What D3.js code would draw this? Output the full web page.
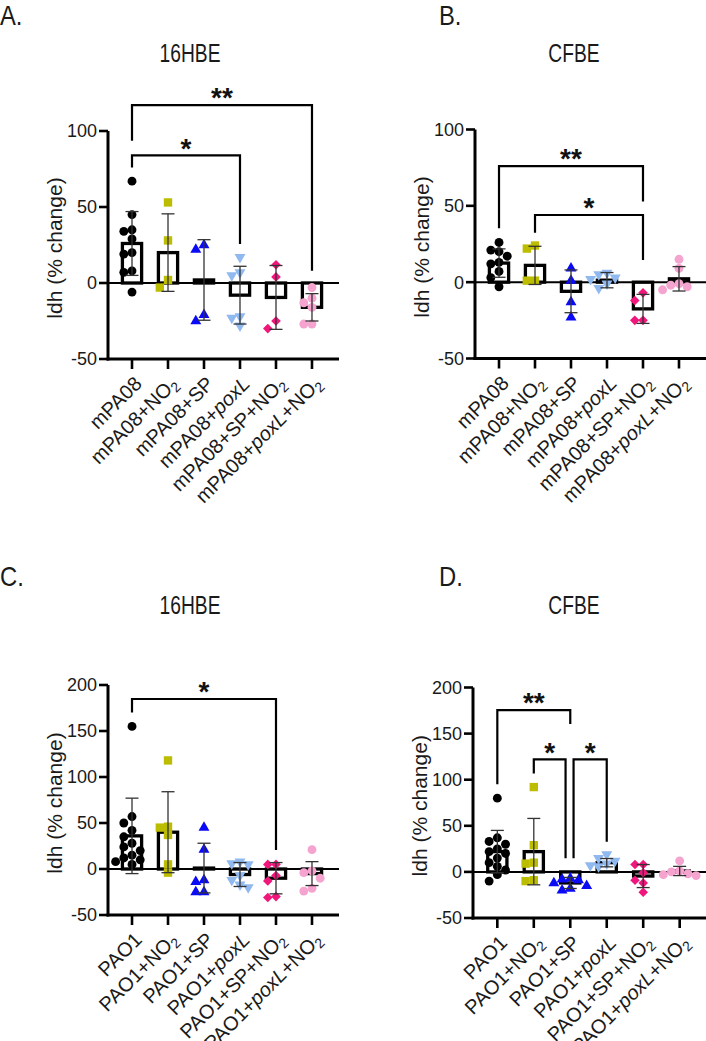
<!DOCTYPE html>
<html><head><meta charset="utf-8">
<script src="https://cdn.jsdelivr.net/npm/d3@7"></script>
<style>body{margin:0;background:#fff}svg text{font-family:"Liberation Sans",Arial,Helvetica,sans-serif}</style>
</head><body>
<svg id="c" width="706" height="1041"></svg>
<script>
// ---------------- DATA ----------------
const catsMPA08 = ["mPA08","mPA08+NO2","mPA08+SP","mPA08+poxL","mPA08+SP+NO2","mPA08+poxL+NO2"];
const catsPAO1  = ["PAO1","PAO1+NO2","PAO1+SP","PAO1+poxL","PAO1+SP+NO2","PAO1+poxL+NO2"];
const yTicksTop = [-50, 0, 50, 100];
const yTicksBottom = [-50, 0, 50, 100, 150, 200];
const yLabel = "ldh (% change)";
const panelTitles = ["16HBE", "CFBE", "16HBE", "CFBE"];
const panelLetters = ["A.", "B.", "C.", "D."];

// Panel A: mPA08 in 16HBE
const aPoints = [[67,45,35,34,29,20,19,8,7,-6],[53,28,2,-3],[22,25,-25,-21],[17,7,5,-22,-23,-28],[12,4,-25,-30],[-3,-10,-13,-16,-27,-27]];
const aMeans = [26, 20, 2, -8, -9.5, -16];
const aSD = [21, 25.5, 26.5, 19, 21, 9];
const aSig = [{from:0, to:3, label:"*"}, {from:0, to:5, label:"**"}];

// Panel B: mPA08 in CFBE
const bPoints = [[26,21,20,17,13,12,7,3,-3],[24,22,1,1],[9,1,-13,-23],[6,5,3,2,-1,-4],[-7,-12,-25,-25],[15,9,-1,-2,-3,-5]];
const bMeans = [12.5, 11, -6, 1.3, -17.5, 2.2];
const bSD = [9.3, 12.5, 14, 5, 9.5, 8];
const bSig = [{from:0, to:4, label:"**"}, {from:1, to:4, label:"*"}];

// Panel C: PAO1 in 16HBE
const cPoints = [[155,57,50,42,35,28,24,20,15,12,10,8,5],[118,46,45,37,5,-4],[45,21,-12,-14,-25,-25],[8,6,5,-7,-12,-17,-20],[5,5,-7,-13,-31,-30],[21,-2,-4,-10,-24,-21]];
const cMeans = [36, 40, 1, -6, -10, -5];
const cSD = [41, 44, 27, 13, 17, 13];
const cSig = [{from:0, to:4, label:"*"}];

// Panel D: PAO1 in CFBE
const dPoints = [[80,37,33,30,25,22,20,15,10,6,2,-3,-10],[92,29,10,9,-9,-10],[-7,-8,-9,-12,-15,-18,-20],[19,15,12,9,7,6],[8,8,-1,-9,-12,-22],[12,1,0,-2,-3,-4]];
const dMeans = [22, 22, -12, 10, -4.5, 1];
const dSD = [23, 36, 6, 4.5, 12.5, 5];
const dSig = [{from:0, to:2, label:"**"}, {from:1, to:2, label:"*"}, {from:2, to:3, label:"*"}];

// ---------------- STYLE / LAYOUT ----------------
const groupColors = ["#000000", "#bcbc00", "#0a0af5", "#8fb9ef", "#f0167c", "#f5a3cf"];
const groupShapes = ["circle", "square", "triangle", "triangleDown", "diamond", "circle"];

const layouts = [
  {x0:108, x1:336, y0:359, y1:131, dom:[-50,100], ticks:yTicksTop, lx:0, ly:25, tx:190, ty:62, ylx:62,
   sigY:[{h:84, l:76, r:25.7, dl:0, dr:0},{h:117, l:93.6, r:8, dl:0, dr:0}]},
  {x0:475, x1:703, y0:358.5, y1:129.5, dom:[-50,100], ticks:yTicksTop, lx:439, ly:25, tx:574, ty:62, ylx:429,
   sigY:[{h:76, l:35.3, r:52.8, dl:0, dr:0},{h:44, l:32.4, r:14.5, dl:0, dr:0}]},
  {x0:108, x1:336, y0:915, y1:685, dom:[-50,200], ticks:yTicksBottom, lx:0, ly:586, tx:190, ty:614, ylx:62,
   sigY:[{h:184.8, l:170, r:20.7, dl:0, dr:0}]},
  {x0:473, x1:704, y0:918, y1:687.5, dom:[-50,200], ticks:yTicksBottom, lx:439, ly:586, tx:574, ty:614, ylx:427,
   sigY:[{h:175.4, l:95, r:160.3, dl:0, dr:0},{h:122, l:106.8, r:14.8, dl:0, dr:-4.7},{h:122, l:14.8, r:32.8, dl:3.3, dr:0}]}
];

const panels = [
  {cats:catsMPA08, pts:aPoints, means:aMeans, sd:aSD, sig:aSig},
  {cats:catsMPA08, pts:bPoints, means:bMeans, sd:bSD, sig:bSig},
  {cats:catsPAO1, pts:cPoints, means:cMeans, sd:cSD, sig:cSig},
  {cats:catsPAO1, pts:dPoints, means:dMeans, sd:dSD, sig:dSig}
];

const svg = d3.select("#c");

function symbolPath(shape){
  if(shape==="circle") return d3.symbol(d3.symbolCircle, 62)();
  if(shape==="square") return d3.symbol(d3.symbolSquare, 70)();
  if(shape==="triangle" || shape==="triangleDown") return d3.symbol(d3.symbolTriangle, 52)();
  if(shape==="diamond") return d3.symbol(d3.symbolSquare, 46)();
}
function symbolRot(shape){
  if(shape==="triangleDown") return 180;
  if(shape==="diamond") return 45;
  return 0;
}

// deterministic column scatter to avoid overlaps
function scatter(vals, y){
  const order = vals.map((v,i)=>({v,i,py:y(v)})).sort((a,b)=>b.v-a.v);
  const placed = [];
  const step = 8.2;
  const offs = [0,-1,1,-2,2,-3,3];
  const res = new Array(vals.length);
  order.forEach(o=>{
    let chosen = 0;
    for(const k of offs){
      const dx = k*step;
      const clash = placed.some(p=>Math.abs(p.dx-dx)<8 && Math.abs(p.py-o.py)<8);
      if(!clash){chosen=dx;break;}
    }
    placed.push({dx:chosen, py:o.py});
    res[o.i]=chosen;
  });
  return res;
}

function addLabel(sel, label){
  const parts = label.split(/(poxL|NO2)/).filter(s=>s.length);
  parts.forEach(p=>{
    if(p==="poxL") sel.append("tspan").attr("font-style","italic").text("poxL");
    else if(p==="NO2"){
      sel.append("tspan").text("NO");
      sel.append("tspan").attr("font-size","14px").attr("dy","4").text("2");
    } else sel.append("tspan").text(p);
  });
}

panels.forEach((P, pi)=>{
  const L = layouts[pi];
  const g = svg.append("g");
  const y = d3.scaleLinear().domain(L.dom).range([L.y0, L.y1]);
  const x = d3.scalePoint().domain(P.cats).range([L.x0, L.x1]).padding(0.667);
  const xr = L.x1 + 3;

  // letter + title
  g.append("text").attr("transform",`translate(${L.lx},${L.ly}) scale(0.85,1)`)
    .attr("font-size","28px").attr("fill","#1a1a1a").text(panelLetters[pi]);
  g.append("text").attr("transform",`translate(${L.tx},${L.ty}) scale(0.74,1)`)
    .attr("text-anchor","middle").attr("font-size","26px").attr("fill","#1a1a1a").text(panelTitles[pi]);

  // y label
  g.append("text").attr("transform",`translate(${L.ylx},${(L.y0+L.y1)/2+3}) rotate(-90)`)
    .attr("text-anchor","middle").attr("font-size","21px").attr("fill","#1a1a1a").text(yLabel);

  // zero line
  g.append("line").attr("x1",L.x0).attr("x2",xr).attr("y1",y(0)).attr("y2",y(0))
    .attr("stroke","#000").attr("stroke-width",2);

  // bars
  P.cats.forEach((c,i)=>{
    const cx = x(c), m = P.means[i];
    const top = Math.min(y(0), y(m)), h = Math.abs(y(0)-y(m));
    g.append("rect").attr("x",cx-9.6).attr("width",19.2).attr("y",top).attr("height",Math.max(h,0.5))
      .attr("fill","none").attr("stroke","#000").attr("stroke-width",3.3);
  });

  // points
  P.cats.forEach((c,i)=>{
    const vals = P.pts[i];
    const offs = scatter(vals, y);
    const path = symbolPath(groupShapes[i]);
    const rot = symbolRot(groupShapes[i]);
    vals.forEach((v,j)=>{
      g.append("path").attr("d",path)
        .attr("transform",`translate(${x(c)+offs[j]},${y(v)}) rotate(${rot})`)
        .attr("fill",groupColors[i]);
    });
  });

  // error bars
  P.cats.forEach((c,i)=>{
    const cx = x(c), m = P.means[i], s = P.sd[i];
    const eg = g.append("g").attr("stroke","#333").attr("stroke-width",1.3);
    eg.append("line").attr("x1",cx).attr("x2",cx).attr("y1",y(m+s)).attr("y2",y(m-s));
    eg.append("line").attr("x1",cx-6.5).attr("x2",cx+6.5).attr("y1",y(m+s)).attr("y2",y(m+s));
    eg.append("line").attr("x1",cx-6.5).attr("x2",cx+6.5).attr("y1",y(m-s)).attr("y2",y(m-s));
  });

  // y axis
  g.append("line").attr("x1",L.x0).attr("x2",L.x0).attr("y1",L.y0+1.5).attr("y2",L.y1)
    .attr("stroke","#000").attr("stroke-width",3);
  L.ticks.forEach(t=>{
    g.append("line").attr("x1",L.x0-9).attr("x2",L.x0).attr("y1",y(t)).attr("y2",y(t))
      .attr("stroke","#000").attr("stroke-width",2.6);
    g.append("text").attr("x",L.x0-11).attr("y",y(t)).attr("dy","0.36em")
      .attr("text-anchor","end").attr("font-size","18px").attr("fill","#1a1a1a").text(t);
  });

  // x axis (bottom)
  g.append("line").attr("x1",L.x0-1.5).attr("x2",xr).attr("y1",L.y0).attr("y2",L.y0)
    .attr("stroke","#000").attr("stroke-width",3);
  P.cats.forEach(c=>{
    g.append("line").attr("x1",x(c)).attr("x2",x(c)).attr("y1",L.y0).attr("y2",L.y0+10)
      .attr("stroke","#000").attr("stroke-width",2.6);
    const t = g.append("text").attr("transform",`translate(${x(c)+11},${L.y0+26}) rotate(-45)`)
      .attr("text-anchor","end").attr("font-size","20px").attr("fill","#1a1a1a");
    addLabel(t, c);
  });

  // significance brackets
  P.sig.forEach((s,k)=>{
    const Y = L.sigY[k];
    const xa = x(P.cats[s.from]) + Y.dl, xb = x(P.cats[s.to]) + Y.dr;
    g.append("path").attr("d",`M${xa},${y(Y.l)}V${y(Y.h)}H${xb}V${y(Y.r)}`)
      .attr("fill","none").attr("stroke","#000").attr("stroke-width",2.2);
    g.append("text").attr("x",(xa+xb)/2).attr("y",y(Y.h)-14+0.58*28)
      .attr("text-anchor","middle").attr("font-size","28px").attr("font-weight","bold")
      .attr("fill","#111").text(s.label);
  });
});
</script>
</body></html>
